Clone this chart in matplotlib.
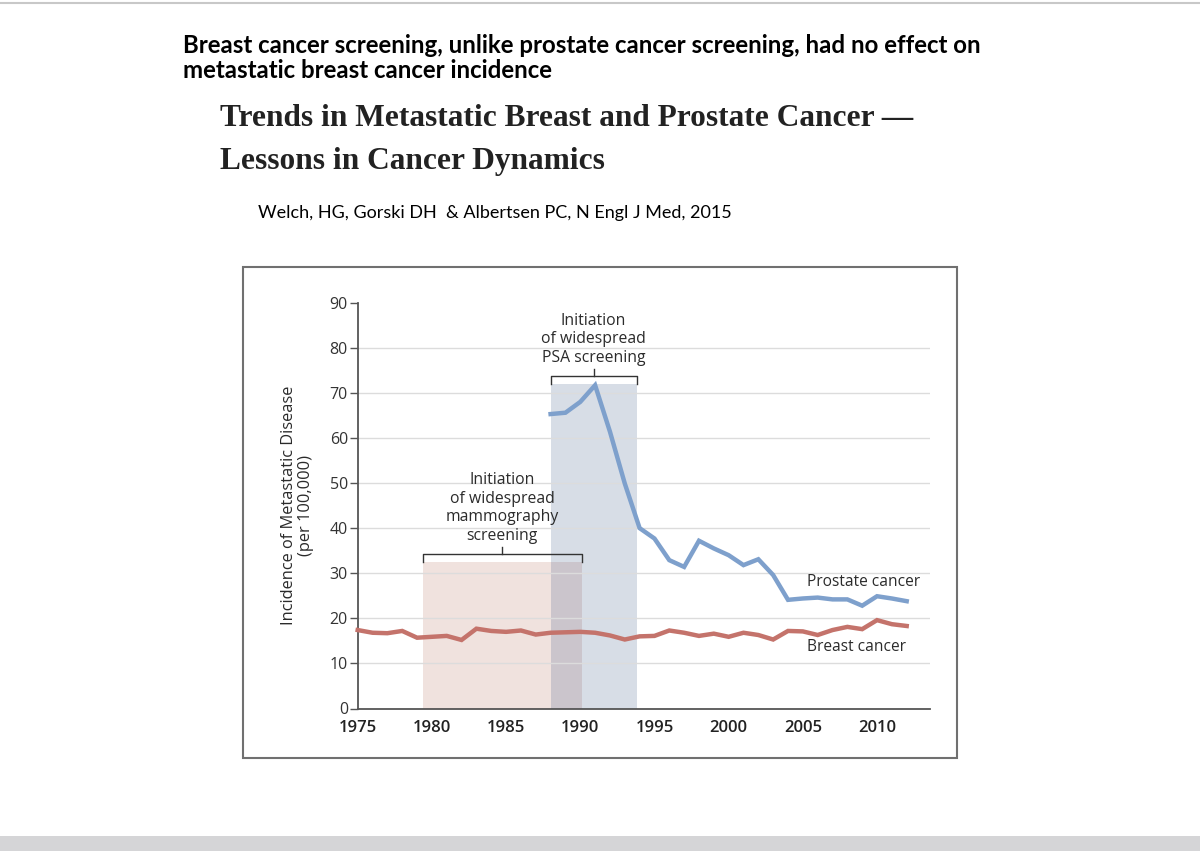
import matplotlib
matplotlib.use("Agg")
import matplotlib.pyplot as plt
from matplotlib.patches import Rectangle

# -----------------------------
# Data
# -----------------------------
breast_years = list(range(1975, 2013))
breast_rate = [17.4, 16.8, 16.7, 17.2, 15.7, 15.9, 16.1, 15.2, 17.7, 17.2,
               17.0, 17.3, 16.4, 16.8, 16.9, 17.0, 16.8, 16.2, 15.3, 16.0,
               16.1, 17.3, 16.8, 16.1, 16.6, 15.9, 16.8, 16.3, 15.3, 17.2,
               17.1, 16.3, 17.4, 18.1, 17.6, 19.6, 18.7, 18.3]

prostate_years = list(range(1988, 2013))
prostate_rate = [65.3, 65.6, 68.0, 71.7, 61.4, 49.9, 40.0, 37.7, 32.9, 31.4,
                 37.2, 35.5, 34.0, 31.8, 33.1, 29.6, 24.1, 24.4, 24.6, 24.2,
                 24.2, 22.8, 24.9, 24.4, 23.8]

# screening periods: start year, end year, top of shaded box
mammo_band = [1979.4, 1990.1, 32.4]
psa_band = [1988.0, 1993.8, 71.9]

x_ticks = [1975, 1980, 1985, 1990, 1995, 2000, 2005, 2010]
y_ticks = [0, 10, 20, 30, 40, 50, 60, 70, 80, 90]

header = ("Breast cancer screening, unlike prostate cancer screening, had no effect on\n"
          "metastatic breast cancer incidence")
title = "Trends in Metastatic Breast and Prostate Cancer \u2014\nLessons in Cancer Dynamics"
citation = "Welch, HG, Gorski DH  & Albertsen PC, N Engl J Med, 2015"

BLUE = "#7ea0cc"
RED = "#c4736b"
PINK_FILL = "#f0e2de"
BLUE_FILL = "#d7dde6"
OVERLAP_FILL = "#cbc5cc"
TXT = "#2b2b2b"

fig = plt.figure(figsize=(12, 8.51), dpi=100)

# page decorations
fig.add_artist(plt.Line2D([0, 1], [0.9968, 0.9968], color="#c8c8c8", lw=1.5))
fig.add_artist(Rectangle((0, 0), 1, 15 / 851, color="#d5d5d7", lw=0))
fig.add_artist(Rectangle((243 / 1200, 1 - 758 / 851), 714 / 1200, 491 / 851,
                         fill=False, edgecolor="#707070", lw=1.5))

fig.text(183 / 1200, 1 - 58 / 851, header, fontsize=17.3, fontweight="bold",
         family="Lato", va="center", ha="left", color="black", linespacing=1.12)
fig.text(220 / 1200, 1 - 140 / 851, title, fontsize=22.6, fontweight="bold",
         family="Liberation Serif", va="center", ha="left", color="#222222",
         linespacing=1.65)
fig.text(258 / 1200, 1 - 213 / 851, citation, fontsize=13.0, family="Lato",
         va="center", ha="left", color="black")

# -----------------------------
# Chart
# -----------------------------
ax = fig.add_axes([357.7 / 1200, 1 - 708.5 / 851, (930 - 357.7) / 1200, (708.5 - 302.7) / 851])
ax.set_xlim(1975, 2013.57)
ax.set_ylim(0, 90)

# shaded screening periods
m0, m1, mtop = mammo_band
p0, p1, ptop = psa_band
ax.add_patch(Rectangle((m0, 0), m1 - m0, mtop, color=PINK_FILL, lw=0, zorder=1))
ax.add_patch(Rectangle((p0, 0), p1 - p0, ptop, color=BLUE_FILL, lw=0, zorder=1))
ax.add_patch(Rectangle((p0, 0), m1 - p0, mtop, color=OVERLAP_FILL, lw=0, zorder=1))

# gridlines
ax.hlines(y_ticks[1:-1], 1975, 2013.57, color="#dcdcdc", lw=1, zorder=2)


def bracket(x0, x1, y, drop, rise):
    mid = (x0 + x1) / 2
    ax.plot([x0, x0, x1, x1], [y - drop, y, y, y - drop], color="#333333", lw=1, zorder=4)
    ax.plot([mid, mid], [y, y + rise], color="#333333", lw=1, zorder=4)


bracket(m0, m1, mtop + 1.9, 1.8, 1.5)
bracket(p0, p1, ptop + 1.9, 1.8, 1.5)

ax.text((m0 + m1) / 2, mtop + 4.0, "Initiation\nof widespread\nmammography\nscreening",
        ha="center", va="bottom", fontsize=11.3, family="Open Sans", color=TXT, linespacing=1.24)
ax.text((p0 + p1) / 2, ptop + 4.0, "Initiation\nof widespread\nPSA screening",
        ha="center", va="bottom", fontsize=11.3, family="Open Sans", color=TXT, linespacing=1.24)

# series
ax.plot(prostate_years, prostate_rate, color=BLUE, lw=3.2, zorder=3,
        solid_joinstyle="miter", clip_on=False)
ax.plot(breast_years, breast_rate, color=RED, lw=3.2, zorder=3,
        solid_joinstyle="miter", clip_on=False)

ax.text(2005.3, 28.0, "Prostate cancer", fontsize=11.2, family="Open Sans",
        color=TXT, ha="left", va="center")
ax.text(2005.3, 13.6, "Breast cancer", fontsize=11.2, family="Open Sans",
        color=TXT, ha="left", va="center")

# axes styling
for side in ["top", "right"]:
    ax.spines[side].set_visible(False)
for side in ["left", "bottom"]:
    ax.spines[side].set_color("#555555")
    ax.spines[side].set_linewidth(1.3)

ax.set_yticks(y_ticks)
ax.set_yticklabels([str(v) for v in y_ticks], family="Open Sans", fontsize=11.5, color="#333333")
ax.tick_params(axis="y", length=6, width=1, color="#555555", pad=1)
ax.set_xticks(x_ticks)
ax.set_xticklabels([str(v) for v in x_ticks], family="Open Sans", fontsize=12,
                   fontweight="semibold", color="#222222")
ax.tick_params(axis="x", length=0, pad=8)

ax.set_ylabel("Incidence of Metastatic Disease\n(per 100,000)", family="Open Sans",
              fontsize=11.8, color="#2a2a2a", linespacing=1.1, labelpad=11)
ax.patch.set_alpha(0)

fig.savefig("out.png", dpi=100)
